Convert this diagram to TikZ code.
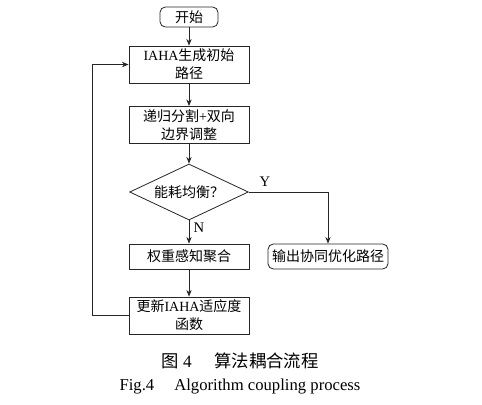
\documentclass[tikz,border=0pt]{standalone}
\usepackage{fontspec}
\setmainfont{Liberation Serif}
\newfontfamily\cjk{Noto Sans CJK SC}
\usetikzlibrary{arrows.meta,shapes.geometric}
\tikzset{
  stepbox/.style={
    rectangle,
    draw=black!85,
    line width=0.6pt,
    minimum width=90pt,
    minimum height=27.75pt,
    inner sep=1pt,
    align=center,
    font=\fontsize{10.5pt}{13.5pt}\selectfont
  },
  shortbox/.style={
    stepbox,
    minimum height=18.75pt
  },
  termbox/.style={
    stepbox,
    rounded corners=4pt
  },
  decision/.style={
    diamond,
    aspect=2.12,
    draw=black!85,
    line width=0.6pt,
    minimum width=89pt,
    minimum height=42pt,
    inner sep=0pt,
    font=\fontsize{10.5pt}{13.5pt}\selectfont
  },
  connection/.style={
    line width=0.6pt,
    draw=black!85,
    -{Stealth[length=5pt,width=4pt]}
  },
  branch/.style={
    font=\fontsize{11pt}{13pt}\selectfont
  }
}
\def\loopX{92}

\begin{document}
\begin{tikzpicture}[x=0.75pt, y=-0.75pt]
  % same frame as the 482x404 reference
  \useasboundingbox (0,0) rectangle (482,404);

  % main column
  \node[termbox, minimum width=43.5pt, minimum height=15pt] (start) at (189,17) {\cjk 开始};
  \node[stepbox] (init) at (189,64.5) {IAHA{\cjk 生成初始}\\{\cjk 路径}};
  \node[stepbox] (split) at (189,125) {{\cjk 递归分割}+{\cjk 双向}\\{\cjk 边界调整}};
  \node[decision] (check) at (189,192) {\cjk 能耗均衡？};
  \node[shortbox] (merge) at (189,256.5) {\cjk 权重感知聚合};
  \node[stepbox] (update) at (189,315.5) {{\cjk 更新}IAHA{\cjk 适应度}\\{\cjk 函数}};

  % exit branch
  \node[termbox, minimum height=18.75pt] (output) at (328,256.5) {\cjk 输出协同优化路径};

  \draw[connection] (start) -- (init);
  \draw[connection] (init) -- (split);
  \draw[connection] (split) -- (check);
  \draw[connection] (check) -- (merge);
  \draw[connection] (merge) -- (update);
  \draw[connection] (check.east) -| (output.north);
  % feedback loop
  \draw[connection] (update.west) -- (\loopX,315.5) |- (init.west);

  \node[branch] (yes) at (265,182) {Y};
  \node[branch] (no) at (199,228) {N};

  % caption
  \node[font=\fontsize{13pt}{15pt}\selectfont] (capcn) at (240,361) {{\cjk 图}~4\hspace{1.3em}{\cjk 算法耦合流程}};
  \node[font=\fontsize{12.5pt}{15pt}\selectfont] (capen) at (240,387) {Fig.4\hspace{1.2em}Algorithm coupling process};
\end{tikzpicture}
\end{document}
